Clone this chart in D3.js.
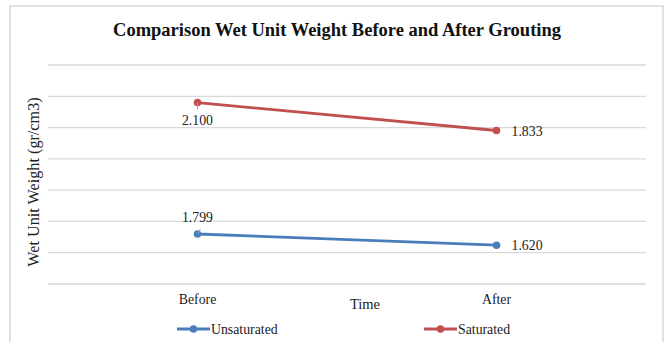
<!DOCTYPE html>
<html>
<head>
<meta charset="utf-8">
<script src="https://cdn.jsdelivr.net/npm/d3@7/dist/d3.min.js"></script>
<style>
  html, body { margin: 0; padding: 0; background: #fff; }
  svg { display: block; font-family: "Liberation Serif", "Times New Roman", serif; }
</style>
</head>
<body>
<svg id="chart" width="668" height="342"></svg>
<script>
// Data
const categories = ["Before", "After"];
const seriesNames = ["Unsaturated", "Saturated"];
const unsaturated = [1.799, 1.620];
const saturated = [2.100, 1.833];
const yTicks = [1.0, 1.5, 2.0, 2.5, 3.0, 3.5, 4.0, 4.5];

const colors = { Unsaturated: "#4a7ebb", Saturated: "#c0504d" };

const svg = d3.select("#chart");

// Chart frame
svg.append("rect")
  .attr("x", 10).attr("y", 6)
  .attr("width", 653).attr("height", 345)
  .attr("fill", "#fff")
  .attr("stroke", "#d9d9d9").attr("stroke-width", 1.5);

const plot = { left: 48, right: 646, top: 65, bottom: 284 };

const x = d3.scaleBand().domain(categories).range([plot.left, plot.right]);
const y = d3.scaleLinear().domain([1.0, 4.5]).range([plot.bottom, plot.top]);

// Stacked line layout: the Saturated line sits on top of Unsaturated
const rows = categories.map((c, i) => ({ cat: c, Unsaturated: unsaturated[i], Saturated: saturated[i] }));
const stacked = d3.stack().keys(seriesNames)(rows);

// Gridlines
svg.append("g")
  .selectAll("line")
  .data(yTicks)
  .join("line")
  .attr("x1", plot.left).attr("x2", plot.right)
  .attr("y1", d => y(d)).attr("y2", d => y(d))
  .attr("stroke", "#d9d9d9").attr("stroke-width", 1.3);

// X axis category labels
const xAxis = svg.append("g")
  .attr("transform", `translate(0,${plot.bottom})`)
  .call(d3.axisBottom(x).tickSize(0).tickPadding(10));
xAxis.select(".domain").remove();
xAxis.selectAll("text")
  .attr("font-family", "Liberation Serif, serif")
  .attr("font-size", 13.8).attr("fill", "#222");

// Axis titles
svg.append("text")
  .attr("x", 365).attr("y", 309)
  .attr("text-anchor", "middle")
  .attr("font-size", 14.5).attr("fill", "#222")
  .text("Time");

svg.append("text")
  .attr("transform", "translate(38.5,182) rotate(-90)")
  .attr("text-anchor", "middle")
  .attr("font-size", 16.2).attr("fill", "#222")
  .text("Wet Unit Weight (gr/cm3)");

// Title
svg.append("text")
  .attr("x", 337).attr("y", 36)
  .attr("text-anchor", "middle")
  .attr("font-size", 18.5).attr("font-weight", "bold").attr("fill", "#111")
  .text("Comparison Wet Unit Weight Before and After Grouting");

const cx = d => x(d.data.cat) + x.bandwidth() / 2;
const line = d3.line().x(cx).y(d => y(d[1]));

// Series lines and markers
stacked.forEach(s => {
  const g = svg.append("g");
  g.append("path")
    .datum(s)
    .attr("d", line)
    .attr("fill", "none")
    .attr("stroke", colors[s.key])
    .attr("stroke-width", 2.8)
    .attr("stroke-linecap", "round");
  g.selectAll("circle")
    .data(s)
    .join("circle")
    .attr("cx", cx).attr("cy", d => y(d[1]))
    .attr("r", 3.8)
    .attr("fill", colors[s.key]);
});

// Data labels (raw values) with leader lines on the first point
const labelOffsets = {
  Unsaturated: [{ dx: 0, dy: -12, anchor: "middle", leader: [[0, 0], [3, -5]] },
                { dx: 15, dy: 5, anchor: "start" }],
  Saturated:   [{ dx: 0, dy: 22, anchor: "middle", leader: [[0, 0], [0, 7]] },
                { dx: 15, dy: 5, anchor: "start" }]
};
stacked.forEach(s => {
  s.forEach((d, i) => {
    const px = cx(d), py = y(d[1]);
    const o = labelOffsets[s.key][i];
    if (o.leader) {
      svg.append("line")
        .attr("x1", px + o.leader[0][0]).attr("y1", py + o.leader[0][1])
        .attr("x2", px + o.leader[1][0]).attr("y2", py + o.leader[1][1])
        .attr("stroke", "#a6a6a6").attr("stroke-width", 1);
    }
    svg.append("text")
      .attr("x", px + o.dx).attr("y", py + o.dy)
      .attr("text-anchor", o.anchor)
      .attr("font-size", 13.8).attr("fill", "#222")
      .text(d3.format(".3f")(d.data[s.key]));
  });
});

// Legend
const legendItems = [
  { key: "Unsaturated", x: 177 },
  { key: "Saturated", x: 424 }
];
const lg = svg.append("g");
legendItems.forEach(it => {
  lg.append("line")
    .attr("x1", it.x).attr("x2", it.x + 33)
    .attr("y1", 329).attr("y2", 329)
    .attr("stroke", colors[it.key]).attr("stroke-width", 2.8);
  lg.append("circle")
    .attr("cx", it.x + 16.5).attr("cy", 329).attr("r", 3.8)
    .attr("fill", colors[it.key]);
  lg.append("text")
    .attr("x", it.x + 34).attr("y", 333.5)
    .attr("font-size", 13.8).attr("fill", "#222")
    .text(it.key);
});
</script>
</body>
</html>
